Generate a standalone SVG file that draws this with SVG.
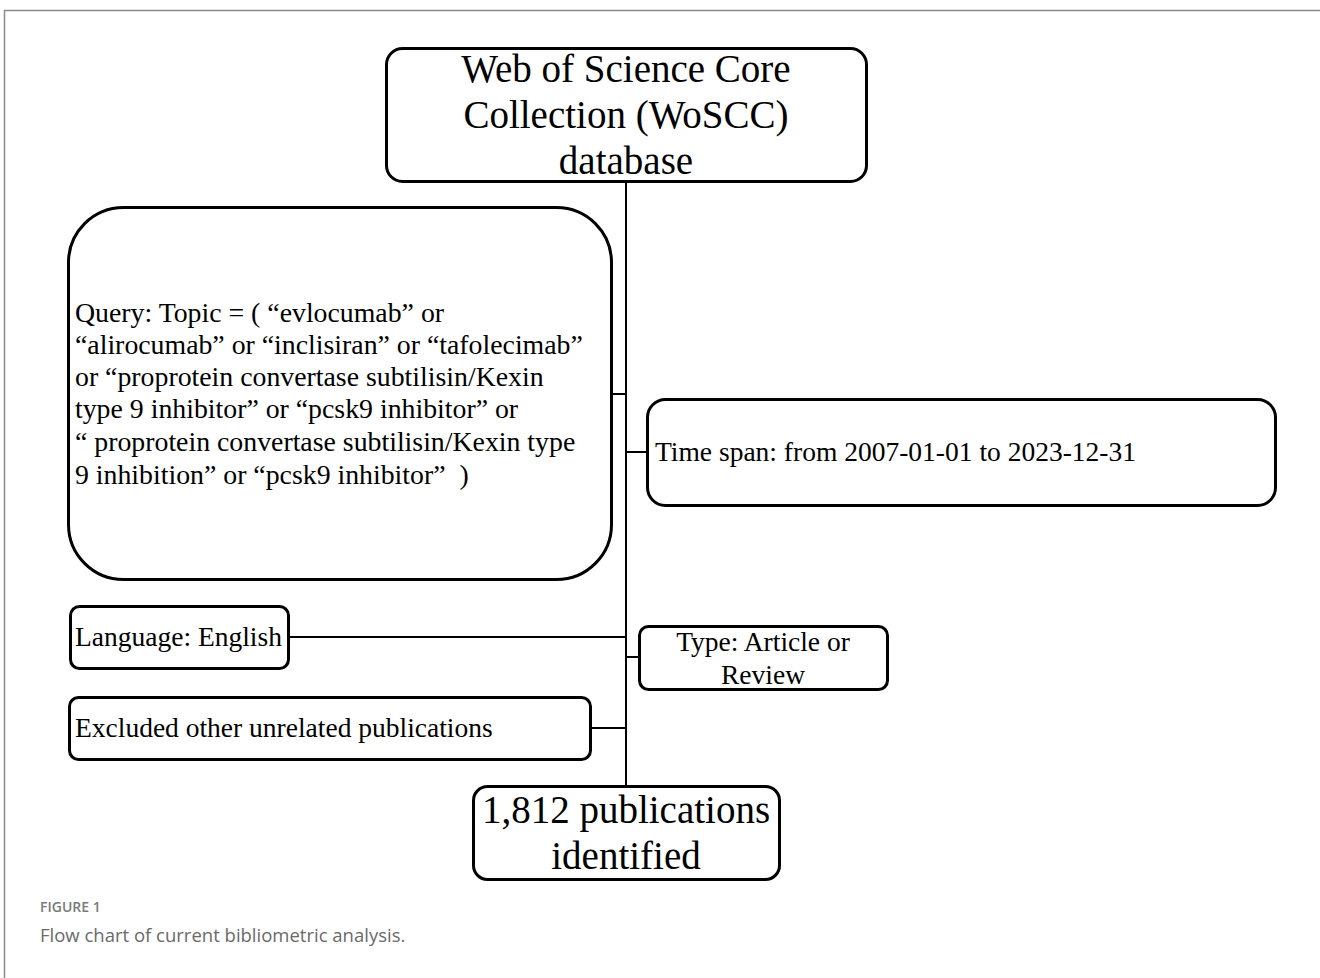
<svg xmlns="http://www.w3.org/2000/svg" width="1320" height="978" viewBox="0 0 1320 978">
<style>
.box{fill:#fff;stroke:#000;stroke-width:3}
.conn{stroke:#000;stroke-width:2;fill:none}
.t{font-family:"Liberation Serif","Times New Roman",serif;fill:#000}
.big{font-size:39px}
.mid{font-size:27.5px}
.q{font-size:27.8px}
.cap{font-family:"Open Sans","Noto Sans",sans-serif}
</style>
<rect width="1320" height="978" fill="#fff"/>
<g id="frame"><path d="M4.5 978 V10.5 H1320" fill="none" stroke="#8a8a8a" stroke-width="1.5"/></g>
<g id="connectors">
<line class="conn" x1="626" y1="182" x2="626" y2="786"/>
<line class="conn" x1="611" y1="394" x2="626" y2="394"/>
<line class="conn" x1="626" y1="452" x2="647" y2="452"/>
<line class="conn" x1="288" y1="637" x2="626" y2="637"/>
<line class="conn" x1="626" y1="657" x2="639" y2="657"/>
<line class="conn" x1="590" y1="728" x2="626" y2="728"/>
</g>
<g id="n-wos">
<rect class="box" x="386.5" y="48.5" width="480" height="133" rx="16"/>
<text class="t big" text-anchor="middle" x="626" y="82">Web of Science Core</text>
<text class="t big" text-anchor="middle" x="626" y="128">Collection (WoSCC)</text>
<text class="t big" text-anchor="middle" x="626" y="174">database</text>
</g>
<g id="n-query">
<rect class="box" x="68.5" y="207.5" width="543" height="372" rx="55"/>
<text class="t q" x="75" y="322">Query: Topic = ( “evlocumab” or</text>
<text class="t q" x="75" y="354">“alirocumab” or “inclisiran” or “tafolecimab”</text>
<text class="t q" x="75" y="386">or “proprotein convertase subtilisin/Kexin</text>
<text class="t q" x="75" y="418">type 9 inhibitor” or “pcsk9 inhibitor” or</text>
<text class="t q" x="75" y="451" xml:space="preserve">“ proprotein convertase subtilisin/Kexin type</text>
<text class="t q" x="75" y="484" xml:space="preserve">9 inhibition” or “pcsk9 inhibitor”  )</text>
</g>
<g id="n-time">
<rect class="box" x="647.5" y="399.5" width="628" height="106" rx="18"/>
<text class="t mid" x="655" y="461">Time span: from 2007-01-01 to 2023-12-31</text>
</g>
<g id="n-lang">
<rect class="box" x="70.5" y="606.5" width="218" height="62" rx="9"/>
<text class="t mid" x="75" y="646">Language: English</text>
</g>
<g id="n-type">
<rect class="box" x="639.5" y="626.5" width="248" height="63" rx="9"/>
<text class="t mid" text-anchor="middle" x="763" y="651">Type: Article or</text>
<text class="t mid" text-anchor="middle" x="763" y="684">Review</text>
</g>
<g id="n-excl">
<rect class="box" x="69.5" y="697.5" width="521" height="62" rx="9"/>
<text class="t mid" x="75" y="737">Excluded other unrelated publications</text>
</g>
<g id="n-result">
<rect class="box" x="473.5" y="786.5" width="306" height="93" rx="14"/>
<text class="t big" text-anchor="middle" x="626" y="823">1,812 publications</text>
<text class="t big" text-anchor="middle" x="626" y="869">identified</text>
</g>
<g id="caption">
<text class="cap" x="40" y="912" font-size="14" font-weight="600" fill="#7a7a7a">FIGURE 1</text>
<text class="cap" x="40" y="942" font-size="18.5" fill="#6a6a6a">Flow chart of current bibliometric analysis.</text>
</g>
</svg>
